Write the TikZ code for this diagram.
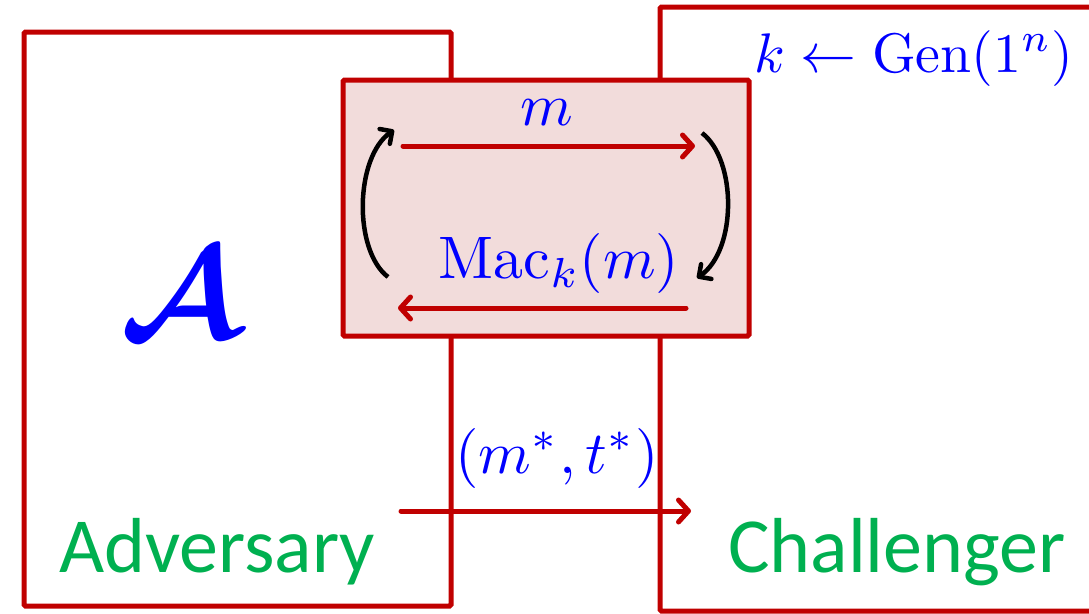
\documentclass[tikz,border=0pt]{standalone}
\usepackage{fontspec}
\newfontfamily\rolefont{Carlito}
\usetikzlibrary{arrows.meta}
\definecolor{boxred}{RGB}{192,0,0}
\definecolor{oraclefill}{RGB}{242,220,219}
\definecolor{labelblue}{RGB}{0,0,255}
\definecolor{rolegreen}{RGB}{0,176,80}

\begin{document}
\begin{tikzpicture}[x=1pt, y=-1pt,
  partybox/.style={draw=boxred, line width=5pt, rounded corners=1.5pt, inner sep=0pt},
  msgarrow/.style={draw=boxred, line width=5pt, line cap=round,
    -{Straight Barb[length=10pt, width=22pt, line cap=round, line join=round]}},
  looparrow/.style={draw=black, line width=4.5pt,
    -{Straight Barb[length=9pt, width=18pt, line cap=round, line join=round]}},
  mathlbl/.style={text=labelblue, inner sep=0pt, anchor=base, scale=6},
  rolelbl/.style={text=rolegreen, inner sep=0pt, anchor=base, font=\rolefont\fontsize{78}{90}\selectfont}]
\useasboundingbox (0,0) rectangle (1089,613);
% the two parties
\node[partybox, minimum width=427, minimum height=574] (adv) at (237.5,319) {};
\node[partybox, minimum width=440, minimum height=604] (chal) at (880,309) {};
% the oracle in between
\node[partybox, fill=oraclefill, minimum width=406, minimum height=256] (oracle) at (546,208) {};
% labels
\node[text=labelblue, inner sep=0pt, anchor=base, scale=13, font=\boldmath] (advsym) at (180,338) {$\mathcal{A}$};
\node[rolelbl] (advname) at (217,572) {Adversary};
\node[rolelbl] (chalname) at (897,572) {Challenger};
\node[mathlbl, scale=0.93] (keygen) at (914,72) {$k\leftarrow\mathrm{Gen}(1^n)$};
\node[mathlbl] (query) at (547,125) {$m$};
\node[mathlbl] (answer) at (559,278) {$\mathrm{Mac}_k(m)$};
\node[mathlbl] (forgery) at (557,473) {$(m^*,t^*)$};
% end points of the messages
\coordinate (q-from) at (403,146);
\coordinate (q-to) at (695,146);
\coordinate (a-from) at (686,308);
\coordinate (a-to) at (398,308);
\coordinate (f-from) at (401,511);
\coordinate (f-to) at (691,511);
\coordinate (l-from) at (388,277);
\coordinate (l-to) at (394,130);
\coordinate (r-from) at (702,133);
\coordinate (r-to) at (697,278);
\draw[msgarrow] (q-from) -- (q-to);
\draw[msgarrow] (a-from) -- (a-to);
\draw[msgarrow] (f-from) -- (f-to);
\draw[looparrow] (l-from) .. controls (353,250) and (355,157) .. (l-to);
\draw[looparrow] (r-from) .. controls (737,160) and (737,250) .. (r-to);
\end{tikzpicture}
\end{document}
